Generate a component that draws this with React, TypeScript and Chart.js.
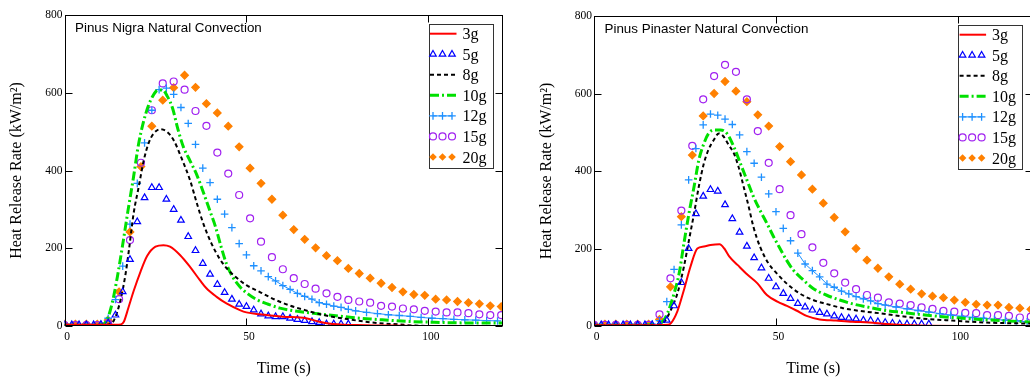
import React, { useEffect, useRef } from 'react';
import { Chart, registerables } from 'chart.js';

Chart.register(...registerables);

// ---------- labels & ticks ----------
const SERIES_LABELS = ['3g', '5g', '8g', '10g', '12g', '15g', '20g'];
const X_TICKS = [0, 50, 100];
const Y_TICKS = [0, 200, 400, 600, 800];
const X_TITLE = 'Time (s)';
const Y_TITLE = 'Heat Release Rate (kW/m²)';
const TITLE_NIGRA = 'Pinus Nigra Natural Convection';
const TITLE_PINASTER = 'Pinus Pinaster Natural Convection';

// ---------- Pinus Nigra (left) ----------
const N3_T = [0, 5, 10, 14, 15.5, 16.3, 17.5, 19, 20.9, 22.7, 25, 27.2, 29, 31.8, 34.5, 37.2, 39, 41.8, 44.5, 48.2, 50, 53.6, 60, 66.4, 70, 73.7, 82.8, 90, 100, 110, 120.5];
const N3_V = [3, 3, 3, 3, 4, 11, 45, 90, 140, 180, 204, 208, 204, 182, 152, 118, 97, 75, 58, 41, 35, 30, 24, 20, 11, 5, 2, 1, 0, 0, 0];

const N5_T = [0, 2, 4, 6, 8, 10, 12, 14, 16, 18, 20, 22, 24, 26, 28, 30, 32, 34, 36, 38, 40, 42, 44, 46, 48, 50, 52, 54, 56, 58, 60, 62, 64, 66, 68, 70, 72, 74, 76, 78];
const N5_V = [3, 3, 3, 3, 3, 4, 8, 28, 88, 171, 268, 330, 356, 356, 326, 300, 272, 230, 194, 161, 133, 107, 86, 69, 56, 50, 41, 31, 26, 24, 24, 20, 17, 14, 11, 9, 5, 5, 5, 5];

const N8_T = [0, 5, 10, 12, 13.6, 15.4, 16.8, 17.7, 19, 20.4, 21.8, 23.1, 24.5, 26.3, 28.1, 30, 32.2, 34.5, 36.3, 38.2, 40.4, 42.7, 45, 47.3, 50, 53.6, 57.3, 61.8, 66.4, 71.9, 78.2, 84.6, 91.9, 96.4, 105, 120.5];
const N8_V = [2, 2, 2, 4, 15, 67, 135, 195, 290, 358, 427, 470, 495, 506, 500, 478, 431, 375, 318, 262, 212, 172, 144, 124, 105, 88, 70, 53, 40, 27, 17, 9, 4, 1, 0, 0];

const N10_T = [0, 5, 10, 11.5, 13, 14.5, 16, 17.5, 19, 20.3, 21.7, 23, 24.3, 25.7, 27, 28.3, 29.7, 31.2, 32.7, 34.5, 36.3, 38.3, 40, 41.5, 43, 44.5, 46.3, 48.2, 50.5, 52.8, 56, 59.2, 64, 69, 74, 79, 84, 89, 94, 100, 110, 120.5];
const N10_V = [2, 2, 3, 12, 55, 125, 210, 300, 385, 465, 525, 565, 592, 607, 607, 590, 560, 505, 460, 425, 390, 340, 295, 255, 205, 160, 125, 101, 82, 68, 56, 46, 38, 32, 27, 22, 18, 15, 12, 10, 8, 8];

const N12_T = [0, 2, 4, 6, 8, 10, 12, 14, 16, 18, 20, 22, 24, 26, 28, 30, 32, 34, 36, 38, 40, 42, 44, 46, 48, 50, 52, 54, 56, 58, 60, 62, 64, 66, 68, 70, 72, 74, 76, 78, 80, 83, 86, 89, 92, 95, 98, 101, 104, 107, 110, 113, 116, 119];
const N12_V = [3, 3, 3, 3, 3, 4, 20, 68, 154, 262, 367, 471, 555, 608, 612, 596, 562, 521, 467, 406, 369, 326, 288, 253, 212, 183, 155, 142, 127, 116, 104, 94, 84, 76, 69, 60, 56, 51, 48, 43, 39, 35, 32, 29, 27, 25, 22, 20, 19, 17, 16, 15, 14, 13];

const N15_T = [0, 3, 6, 9, 12, 15, 18, 21, 24, 27, 30, 33, 36, 39, 42, 45, 48, 51, 54, 57, 60, 63, 66, 69, 72, 75, 78, 81, 84, 87, 90, 93, 96, 99, 102, 105, 108, 111, 114, 117, 120];
const N15_V = [2, 2, 2, 2, 7, 69, 221, 420, 555, 624, 629, 608, 553, 515, 446, 392, 337, 277, 217, 177, 146, 123, 108, 96, 84, 75, 67, 63, 60, 52, 50, 45, 43, 39, 37, 35, 35, 33, 30, 28, 28];

const N20_T = [0, 3, 6, 9, 12, 15, 18, 21, 24, 27, 30, 33, 36, 39, 42, 45, 48, 51, 54, 57, 60, 63, 66, 69, 72, 75, 78, 81, 84, 87, 90, 93, 96, 99, 102, 105, 108, 111, 114, 117, 120];
const N20_V = [5, 5, 5, 5, 15, 88, 242, 410, 514, 581, 613, 645, 614, 572, 548, 514, 461, 406, 367, 326, 285, 248, 223, 201, 181, 168, 148, 135, 123, 110, 99, 88, 81, 79, 69, 67, 63, 60, 57, 52, 50];

// ---------- Pinus Pinaster (right) ----------
const P3_T = [0, 10, 18, 20.2, 21.1, 22.9, 24.7, 26.5, 28.4, 30.2, 32, 34.5, 35.8, 37.2, 39.5, 42.2, 44.9, 47.5, 50.4, 53, 55.6, 58.4, 62, 66.5, 71, 75.6, 80.4, 89.3, 100, 111];
const P3_V = [2, 2, 2, 3, 7, 38, 93, 153, 200, 205, 209, 211, 200, 179, 157, 132, 110, 80, 63, 52, 40, 26, 17, 14, 11, 9, 5, 1, 0, 0];

const P5_T = [0, 2, 4, 6, 8, 10, 12, 14, 16, 18, 20, 22, 24, 26, 28, 30, 32, 34, 36, 38, 40, 42, 44, 46, 48, 50, 52, 54, 56, 58, 60, 62, 64, 66, 68, 70, 72, 74, 76, 78, 80, 82, 84, 86, 88, 90, 92];
const P5_V = [3, 3, 3, 3, 3, 3, 3, 3, 3, 4, 15, 52, 112, 200, 290, 335, 352, 348, 313, 277, 242, 206, 176, 150, 123, 101, 84, 71, 58, 49, 41, 35, 31, 26, 22, 20, 18, 15, 14, 11, 9, 7, 5, 5, 5, 5, 5];

const P8_T = [0, 10, 17, 19.3, 21.1, 22.9, 24.7, 26.1, 27.5, 28.8, 30.2, 31.5, 32.9, 34.3, 35.6, 37, 38.4, 39.7, 41.1, 42.5, 43.8, 45.6, 47.9, 50.2, 52.9, 56.5, 60.2, 63.8, 68.4, 72.9, 78.4, 84.7, 89.3, 98.4, 107.5, 120.5];
const P8_V = [2, 2, 3, 11, 41, 84, 153, 222, 291, 360, 420, 456, 480, 497, 489, 467, 446, 411, 360, 308, 256, 205, 162, 136, 110, 84, 67, 57, 46, 39, 33, 25, 20, 14, 9, 6];

const P10_T = [0, 10, 16.5, 18.4, 20.2, 22, 23.4, 24.7, 26.1, 27.5, 28.8, 30.2, 31.5, 32.9, 34.7, 36.5, 38.4, 40.2, 42, 43.8, 45.6, 47.5, 49.3, 51.1, 52.9, 54.7, 57.5, 60.2, 63.8, 67.5, 71.1, 75.6, 80.2, 84.7, 89.3, 98.4, 107.5, 120.5];
const P10_V = [2, 2, 3, 7, 33, 84, 136, 213, 291, 360, 428, 471, 497, 506, 506, 497, 463, 420, 377, 334, 299, 265, 231, 200, 170, 145, 119, 97, 80, 67, 57, 48, 40, 35, 30, 22, 16, 10];

const P12_T = [0, 2, 4, 6, 8, 10, 12, 14, 16, 18, 20, 22, 24, 26, 28, 30, 32, 34, 36, 38, 40, 42, 44, 46, 48, 50, 52, 54, 56, 58, 60, 62, 64, 66, 68, 70, 72, 74, 76, 78, 80, 83, 86, 89, 92, 95, 98, 101, 104, 107, 110, 113, 116, 119];
const P12_V = [3, 3, 3, 3, 3, 3, 3, 3, 5, 14, 63, 146, 261, 377, 458, 519, 547, 544, 534, 520, 493, 450, 420, 384, 341, 295, 252, 220, 188, 160, 143, 127, 108, 100, 90, 83, 76, 70, 65, 58, 54, 49, 44, 40, 36, 32, 28, 25, 22, 20, 17, 15, 13, 11];

const P15_T = [0, 3, 6, 9, 12, 15, 18, 21, 24, 27, 30, 33, 36, 39, 42, 45, 48, 51, 54, 57, 60, 63, 66, 69, 72, 75, 78, 81, 84, 87, 90, 93, 96, 99, 102, 105, 108, 111, 114, 117, 120];
const P15_V = [3, 3, 3, 3, 3, 3, 30, 123, 298, 465, 585, 645, 674, 656, 585, 503, 421, 353, 286, 237, 203, 163, 136, 112, 95, 80, 73, 61, 58, 54, 48, 44, 39, 37, 34, 33, 28, 28, 26, 22, 24];

const P20_T = [0, 3, 6, 9, 12, 15, 18, 21, 24, 27, 30, 33, 36, 39, 42, 45, 48, 51, 54, 57, 60, 63, 66, 69, 72, 75, 78, 81, 84, 87, 90, 93, 96, 99, 102, 105, 108, 111, 114, 117, 120];
const P20_V = [5, 5, 5, 5, 5, 5, 17, 101, 282, 441, 542, 600, 631, 606, 579, 545, 516, 463, 424, 390, 353, 317, 280, 243, 200, 170, 149, 127, 108, 95, 83, 77, 73, 67, 61, 56, 54, 54, 48, 46, 43];

// ---------- styles ----------
type MarkerKind = 'triangle' | 'cross' | 'circle' | 'diamond';
type SeriesStyle = {
  color: string;
  line?: { width: number; dash: number[] };
  marker?: MarkerKind;
  tailLineFrom?: number;
};

const STYLES: Record<string, SeriesStyle> = {
  '3g': { color: '#ff0000', line: { width: 2, dash: [] } },
  '5g': { color: '#0000ff', marker: 'triangle' },
  '8g': { color: '#000000', line: { width: 2, dash: [4, 3] } },
  '10g': { color: '#00e000', line: { width: 3, dash: [9, 3, 2, 3] } },
  '12g': { color: '#1e90ff', marker: 'cross', tailLineFrom: 56 },
  '15g': { color: '#a020f0', marker: 'circle' },
  '20g': { color: '#ff8000', marker: 'diamond' },
};

const MARKER_RADIUS: Record<MarkerKind, number> = { triangle: 3.8, cross: 3.8, circle: 3.5, diamond: 3.8 };
const CHART_POINT_STYLE: Record<MarkerKind, string> = { triangle: 'triangle', cross: 'cross', circle: 'circle', diamond: 'rectRot' };

const SERIF = 'Liberation Serif, Times New Roman, serif';
const SANS = 'Liberation Sans, Arial, sans-serif';

function toPoints(t: number[], v: number[]) {
  return t.map((x, i) => ({ x, y: v[i] }));
}

function buildDatasets(series: { t: number[]; v: number[] }[]) {
  return series.map((s, i) => {
    const label = SERIES_LABELS[i];
    const st = STYLES[label];
    const base: any = { label, data: toPoints(s.t, s.v), parsing: true };
    if (st.line) {
      return {
        ...base,
        showLine: true,
        borderColor: st.color,
        borderWidth: st.line.width,
        borderDash: st.line.dash,
        pointRadius: 0,
        pointHoverRadius: 0,
        cubicInterpolationMode: 'monotone',
        fill: false,
      };
    }
    const mk = st.marker as MarkerKind;
    const filled = mk === 'diamond';
    const ds: any = {
      ...base,
      showLine: st.tailLineFrom !== undefined,
      borderColor: st.color,
      borderWidth: 1,
      pointStyle: CHART_POINT_STYLE[mk],
      pointRadius: MARKER_RADIUS[mk],
      pointHoverRadius: MARKER_RADIUS[mk],
      pointBorderColor: st.color,
      pointBackgroundColor: filled ? st.color : 'rgba(0,0,0,0)',
      pointBorderWidth: mk === 'cross' ? 1.3 : 1.2,
      fill: false,
    };
    if (st.tailLineFrom !== undefined) {
      const from = st.tailLineFrom;
      ds.segment = {
        borderColor: (c: any) => (c.p0.parsed.x >= from ? st.color : 'rgba(0,0,0,0)'),
      };
    }
    return ds;
  });
}

function drawMarker(ctx: CanvasRenderingContext2D, kind: MarkerKind, x: number, y: number, color: string) {
  const r = MARKER_RADIUS[kind];
  ctx.save();
  ctx.strokeStyle = color;
  ctx.fillStyle = color;
  ctx.lineWidth = kind === 'cross' ? 1.3 : 1.2;
  ctx.setLineDash([]);
  ctx.beginPath();
  if (kind === 'triangle') {
    ctx.moveTo(x, y - r);
    ctx.lineTo(x + r * 0.866, y + r / 2);
    ctx.lineTo(x - r * 0.866, y + r / 2);
    ctx.closePath();
    ctx.stroke();
  } else if (kind === 'cross') {
    ctx.moveTo(x - r, y);
    ctx.lineTo(x + r, y);
    ctx.moveTo(x, y - r);
    ctx.lineTo(x, y + r);
    ctx.stroke();
  } else if (kind === 'circle') {
    ctx.arc(x, y, r, 0, Math.PI * 2);
    ctx.stroke();
  } else {
    ctx.moveTo(x, y - r);
    ctx.lineTo(x + r, y);
    ctx.lineTo(x, y + r);
    ctx.lineTo(x - r, y);
    ctx.closePath();
    ctx.fill();
  }
  ctx.restore();
}

const decorPlugin = {
  id: 'decor',
  afterDraw(chart: any, _args: any, opts: any) {
    const ctx: CanvasRenderingContext2D = chart.ctx;
    const a = chart.chartArea;
    const xs = chart.scales.x;
    const ys = chart.scales.y;
    ctx.save();

    // frame
    const L = Math.round(a.left) + 0.5;
    const R = Math.round(a.right) - 0.5;
    const T = Math.round(a.top) + 0.5;
    const B = Math.round(a.bottom) - 0.5;
    ctx.strokeStyle = '#000';
    ctx.lineWidth = 1;
    ctx.setLineDash([]);
    ctx.strokeRect(L, T, R - L, B - T);

    // inward tick marks on all four sides
    const TL = 7;
    ctx.beginPath();
    xs.ticks.forEach((tk: any) => {
      const px = Math.round(xs.getPixelForValue(tk.value)) + 0.5;
      ctx.moveTo(px, B);
      ctx.lineTo(px, B - TL);
      ctx.moveTo(px, T);
      ctx.lineTo(px, T + TL);
    });
    ys.ticks.forEach((tk: any) => {
      const py = Math.round(ys.getPixelForValue(tk.value)) + 0.5;
      ctx.moveTo(L, py);
      ctx.lineTo(L + TL, py);
      ctx.moveTo(R, py);
      ctx.lineTo(R - TL, py);
    });
    ctx.stroke();

    // title inside plot
    ctx.fillStyle = '#000';
    ctx.font = `13.4px ${SANS}`;
    ctx.textAlign = 'left';
    ctx.textBaseline = 'alphabetic';
    ctx.fillText(opts.title, a.left + 10.5, a.top + 17);

    // legend box
    const bx = a.right - 74.5;
    const bw = 64.3;
    const by = a.top + 8.5;
    const bh = 144;
    ctx.fillStyle = '#fff';
    ctx.fillRect(bx, by, bw, bh);
    ctx.strokeStyle = '#333';
    ctx.lineWidth = 1;
    ctx.strokeRect(Math.round(bx) + 0.5, Math.round(by) + 0.5, Math.round(bw), Math.round(bh));

    const sx0 = a.right - 73;
    const sx1 = a.right - 46.5;
    const tx = a.right - 40.5;
    SERIES_LABELS.forEach((label, i) => {
      const st = STYLES[label];
      const y = a.top + 18.7 + i * 20.55;
      if (st.line) {
        ctx.save();
        ctx.strokeStyle = st.color;
        ctx.lineWidth = st.line.width;
        ctx.setLineDash(st.line.dash);
        ctx.beginPath();
        ctx.moveTo(sx0, y);
        ctx.lineTo(sx1, y);
        ctx.stroke();
        ctx.restore();
      } else if (st.marker) {
        if (st.tailLineFrom !== undefined) {
          ctx.save();
          ctx.strokeStyle = st.color;
          ctx.lineWidth = 1;
          ctx.beginPath();
          ctx.moveTo(sx0 + 3, y);
          ctx.lineTo(sx0 + 22, y);
          ctx.stroke();
          ctx.restore();
        }
        [3, 12.5, 22].forEach((dx) => drawMarker(ctx, st.marker as MarkerKind, sx0 + dx, y, st.color));
      }
      ctx.fillStyle = '#000';
      ctx.font = `16px ${SERIF}`;
      ctx.textAlign = 'left';
      ctx.textBaseline = 'alphabetic';
      ctx.fillText(label, tx, y + 5.5);
    });

    ctx.restore();
  },
};

type PanelProps = {
  left: number;
  title: string;
  series: { t: number[]; v: number[] }[];
  padTop: number;
  padRight: number;
  yWidth: number;
};

function Panel({ left, title, series, padTop, padRight, yWidth }: PanelProps) {
  const ref = useRef<HTMLCanvasElement>(null);
  useEffect(() => {
    if (!ref.current) return;
    const chart = new Chart(ref.current, {
      type: 'line',
      data: { datasets: buildDatasets(series) },
      options: {
        responsive: false,
        animation: false,
        devicePixelRatio: 1,
        layout: { padding: { top: padTop, right: padRight, left: 0, bottom: 0 } },
        plugins: {
          legend: { display: false },
          tooltip: { enabled: false },
          decor: { title },
        } as any,
        scales: {
          x: {
            type: 'linear',
            min: 0,
            max: 120.5,
            grid: { display: false, drawTicks: false },
            border: { display: false },
            afterBuildTicks: (s: any) => {
              s.ticks = X_TICKS.map((value) => ({ value }));
            },
            afterFit: (s: any) => {
              s.height = 52;
            },
            ticks: {
              font: { family: SERIF, size: 11.5 },
              color: '#000',
              padding: 4,
              labelOffset: 2.5,
              maxRotation: 0,
              callback: (v: any) => String(v),
            },
            title: {
              display: true,
              text: X_TITLE,
              font: { family: SERIF, size: 16 },
              color: '#000',
              padding: { top: 0, bottom: 0 },
            },
          },
          y: {
            type: 'linear',
            min: 0,
            max: 800,
            grid: { display: false, drawTicks: false },
            border: { display: false },
            afterBuildTicks: (s: any) => {
              s.ticks = Y_TICKS.map((value) => ({ value }));
            },
            afterFit: (s: any) => {
              s.width = yWidth;
            },
            ticks: {
              font: { family: SERIF, size: 11.5 },
              color: '#000',
              padding: 2,
              callback: (v: any) => String(v),
            },
            title: {
              display: true,
              text: Y_TITLE,
              font: { family: SERIF, size: 16 },
              color: '#000',
              padding: { top: 7.5, bottom: 0 },
            },
          },
        },
      } as any,
      plugins: [decorPlugin as any],
    });
    return () => chart.destroy();
  }, []);
  return (
    <div style={{ position: 'absolute', left, top: 0, width: 515, height: 378 }}>
      <canvas ref={ref} width={515} height={378} style={{ display: 'block', width: 515, height: 378 }} />
    </div>
  );
}

const NIGRA_SERIES = [
  { t: N3_T, v: N3_V },
  { t: N5_T, v: N5_V },
  { t: N8_T, v: N8_V },
  { t: N10_T, v: N10_V },
  { t: N12_T, v: N12_V },
  { t: N15_T, v: N15_V },
  { t: N20_T, v: N20_V },
];

const PINASTER_SERIES = [
  { t: P3_T, v: P3_V },
  { t: P5_T, v: P5_V },
  { t: P8_T, v: P8_V },
  { t: P10_T, v: P10_V },
  { t: P12_T, v: P12_V },
  { t: P15_T, v: P15_V },
  { t: P20_T, v: P20_V },
];

export default function App() {
  return (
    <div
      style={{
        position: 'fixed',
        left: 0,
        top: 0,
        width: 1030,
        height: 378,
        overflow: 'hidden',
        background: '#fff',
      }}
    >
      <Panel left={0} title={TITLE_NIGRA} series={NIGRA_SERIES} padTop={15} padRight={12} yWidth={64.5} />
      <Panel left={530} title={TITLE_PINASTER} series={PINASTER_SERIES} padTop={16} padRight={12.4} yWidth={64} />
    </div>
  );
}
